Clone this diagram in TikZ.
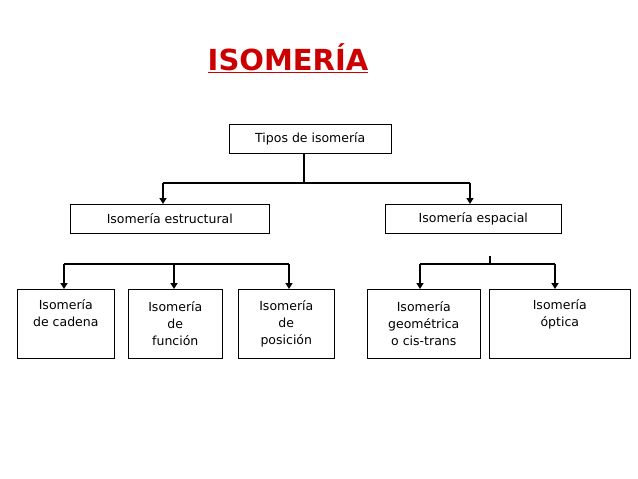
\documentclass[tikz,border=0pt]{standalone}
\usepackage{fontspec}
\setmainfont{DejaVu Sans}
\usetikzlibrary{arrows.meta}
\begin{document}
\begin{tikzpicture}[x=1pt,y=-1pt,
  box/.style={draw,line width=0.6pt,fill=white,align=center,font=\fontsize{12.5}{17}\selectfont,inner sep=0pt,anchor=north west},
  conn/.style={line width=2pt},
  arr/.style={line width=2pt,-{Triangle[length=6pt,width=7pt]}}]
\useasboundingbox (0,0) rectangle (638,479);
\node[font=\bfseries\fontsize{29}{32}\selectfont,text=red!80!black] (t) at (288,58) {\underline{ISOMERÍA}};
\node[box,minimum width=162pt,minimum height=29pt] (tipos) at (229,124) {Tipos de isomería};
\node[box,minimum width=199pt,minimum height=29pt] (est) at (70,204) {Isomería estructural};
\node[box,minimum width=176pt,minimum height=29pt] (esp) at (385,204) {Isomería espacial};
\node[box,minimum width=97pt,minimum height=69pt] (cad) at (17,289) {Isomería\\de cadena\\\strut};
\node[box,minimum width=94pt,minimum height=69pt] (fun) at (128,289) {Isomería\\de\\función};
\node[box,minimum width=96pt,minimum height=69pt] (pos) at (238,289) {Isomería\\de\\posición};
\node[box,minimum width=113pt,minimum height=69pt] (geo) at (367,289) {Isomería\\geométrica\\o cis-trans};
\node[box,minimum width=141pt,minimum height=69pt] (opt) at (489,289) {Isomería\\óptica\\\strut};
\coordinate (j1) at (304,183);
\coordinate (a1) at (163,183);
\coordinate (a2) at (470,183);
\coordinate (b1) at (64,264);
\coordinate (b2) at (174,264);
\coordinate (b3) at (289,264);
\coordinate (e0) at (490,256);
\coordinate (e1) at (490,264);
\coordinate (c1) at (420,264);
\coordinate (c2) at (555,264);
\draw[conn] (tipos.south -| j1) -- (j1);
\draw[conn] (a1) -- (a2);
\draw[arr] (a1) -- (a1 |- est.north);
\draw[arr] (a2) -- (a2 |- esp.north);
\draw[conn] (b1) -- (b3);
\draw[arr] (b1) -- (b1 |- cad.north);
\draw[arr] (b2) -- (b2 |- fun.north);
\draw[arr] (b3) -- (b3 |- pos.north);
\draw[conn] (e0) -- (e1);
\draw[conn] (c1) -- (c2);
\draw[arr] (c1) -- (c1 |- geo.north);
\draw[arr] (c2) -- (c2 |- opt.north);
\end{tikzpicture}
\end{document}
